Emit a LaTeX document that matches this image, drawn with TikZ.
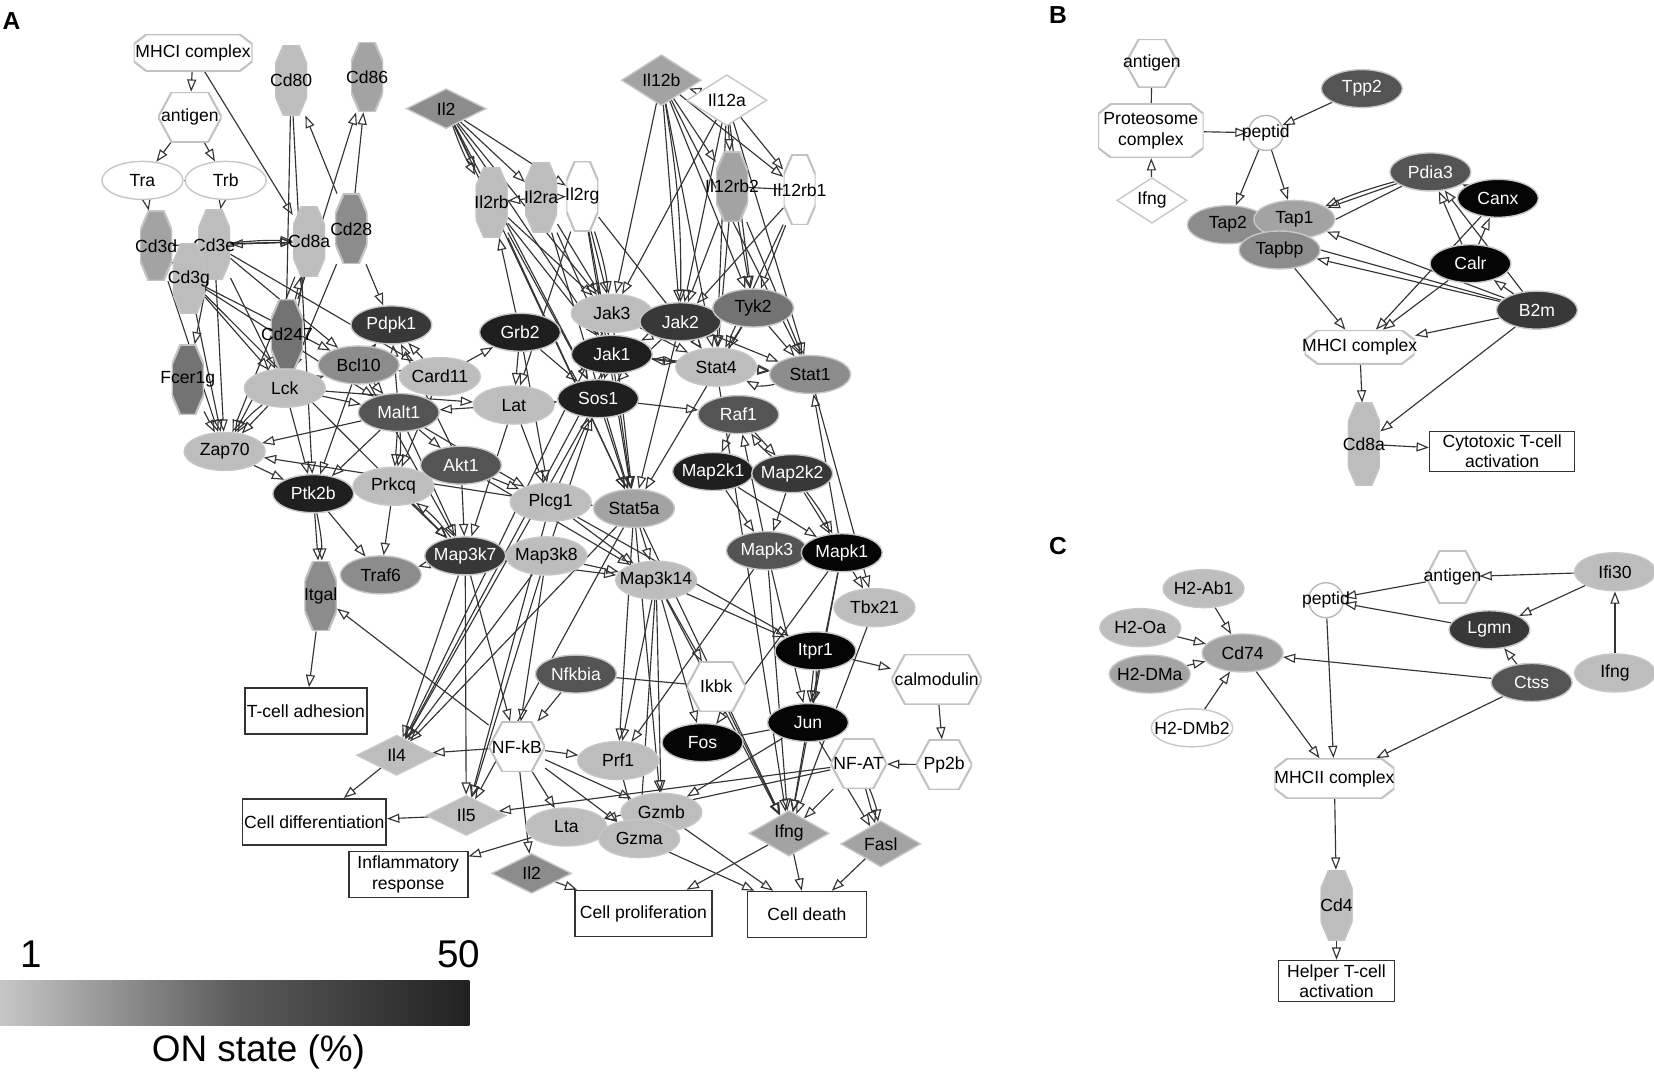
\documentclass[tikz,border=0pt]{standalone}
\usepackage{fontspec}
\setmainfont{Liberation Sans}
\usepackage{tikz}
\usetikzlibrary{shapes.geometric,arrows.meta,backgrounds}
\usetikzlibrary {positioning}
\definecolor{onA}{gray}{0.74}
\definecolor{onB}{gray}{0.64}
\definecolor{onC}{gray}{0.55}
\definecolor{onD}{gray}{0.45}
\definecolor{onE}{gray}{0.33}
\definecolor{onF}{gray}{0.22}
\definecolor{onG}{gray}{0.12}
\definecolor{onH}{gray}{0.02}
\definecolor{barlo}{gray}{0.78}
\definecolor{barmid}{gray}{0.36}
\definecolor{barhi}{gray}{0.13}
\tikzset{polyln/.style={draw=black!24,line width=1.2pt},
         chamf/.style n args={3}{rectangle,inner sep=0pt,
           path picture={\filldraw[polyln,fill=#1]
             ([xshift=#2]path picture bounding box.north west)
             -- ([xshift=-#2]path picture bounding box.north east)
             -- ([yshift=-#3]path picture bounding box.north east)
             -- ([yshift=#3]path picture bounding box.south east)
             -- ([xshift=-#2]path picture bounding box.south east)
             -- ([xshift=#2]path picture bounding box.south west)
             -- ([yshift=#3]path picture bounding box.south west)
             -- ([yshift=-#3]path picture bounding box.north west) -- cycle;}},
         gene/.style={ellipse,draw=black!22,line width=0.8pt,fill=#1,
           minimum width=1.62cm,minimum height=0.76cm,inner xsep=-5pt,inner ysep=0pt},
         dgene/.style={gene=#1,text=white},
         lig/.style={diamond,draw=black!22,line width=0.8pt,fill=#1,
           minimum width=1.6cm,minimum height=0.8cm,inner sep=0pt},
         recp/.style={chamf={#1}{0.17cm}{0.4cm},minimum width=0.64cm,minimum height=1.4cm},
         cplx/.style={chamf={white}{0.26cm}{0.2cm},minimum width=2.38cm,minimum height=0.74cm},
         hexa/.style={rectangle,inner sep=0pt,minimum width=1.12cm,minimum height=1cm,
           path picture={\filldraw[polyln,fill=white]
             (path picture bounding box.west)
             -- ([xshift=0.27cm]path picture bounding box.north west)
             -- ([xshift=-0.27cm]path picture bounding box.north east)
             -- (path picture bounding box.east)
             -- ([xshift=-0.27cm]path picture bounding box.south east)
             -- ([xshift=0.27cm]path picture bounding box.south west) -- cycle;}},
         pep/.style={circle,draw=black!28,line width=0.8pt,fill=white,
           minimum size=0.7cm,inner sep=0pt},
         outcome/.style={rectangle,draw=black!80,line width=0.9pt,fill=white,
           align=center,inner sep=1pt,minimum height=0.92cm,
           font=\fontsize{10}{11.5}\selectfont},
         arr/.style={draw=black!80,line width=0.65pt,
           -{Triangle[open,length=7pt,width=5.2pt]}},
         tie/.style={draw=black!80,line width=0.65pt},
         panel/.style={font=\bfseries\fontsize{14}{14}\selectfont}}

\begin{document}
\begin{tikzpicture}[x=0.0211cm,y=-0.0211cm]
\useasboundingbox (0,0) rectangle (1568,1017);

% panel A
\node[panel] (panA) at (11,20) {A};
\node[cplx,label=center:MHCI complex] (mhcA) at (183,50) {};
\node[hexa,minimum width=1.27cm,label=center:antigen] (antA) at (180,111) {};
\node[gene=white] (tra) at (135,171) {Tra};
\node[gene=white] (trb) at (214,171) {Trb};
\node[recp=onA,label=center:Cd80] (cd80) at (276,76) {};
\node[recp=onB,label=center:Cd86] (cd86) at (348,73) {};
\node[lig=onC] (il2) at (423,103) {Il2};
\node[lig=onB] (il12b) at (627,76) {Il12b};
\node[lig=white] (il12a) at (689,95) {Il12a};
\node[recp=onA,label=center:Il2rb] (il2rb) at (466,192) {};
\node[recp=onA,label=center:Il2ra] (il2ra) at (513,187) {};
\node[recp=white,label=center:Il2rg] (il2rg) at (552,186) {};
\node[recp=onB,label=center:Il12rb2] (il12rb2) at (694,177) {};
\node[recp=white,label=center:Il12rb1] (il12rb1) at (758,180) {};
\node[recp=onB,label=center:Cd3d] (cd3d) at (148,233) {};
\node[recp=onA,label=center:Cd3e] (cd3e) at (203,232) {};
\node[recp=onA,label=center:Cd3g] (cd3g) at (179,264) {};
\node[recp=onA,label=center:Cd8a] (cd8a) at (293,229) {};
\node[recp=onC,label=center:Cd28] (cd28) at (333,217) {};
\node[recp=onD,label=center:Cd247] (cd247) at (272,317) {};
\node[recp=onD,label=center:Fcer1g] (fcer1g) at (178,360) {};
\node[dgene=onF] (pdpk1) at (371,308) {Pdpk1};
\node[gene=onA] (lck) at (270,368) {Lck};
\node[gene=onC] (bcl10) at (340,346) {Bcl10};
\node[gene=onA] (card11) at (417,357) {Card11};
\node[dgene=onE] (malt1) at (378,391) {Malt1};
\node[dgene=onG] (grb2) at (493,315) {Grb2};
\node[gene=onA] (lat) at (487,384) {Lat};
\node[gene=onA] (zap70) at (213,428) {Zap70};
\node[dgene=onG] (ptk2b) at (297,468) {Ptk2b};
\node[gene=onA] (prkcq) at (373,461) {Prkcq};
\node[dgene=onE] (akt1) at (437,441) {Akt1};
\node[gene=onA] (plcg1) at (522,476) {Plcg1};
\node[gene=onA] (jak3) at (580,297) {Jak3};
\node[dgene=onF] (jak2) at (645,305) {Jak2};
\node[dgene=onG] (jak1) at (580,336) {Jak1};
\node[gene=onD] (tyk2) at (714,292) {Tyk2};
\node[gene=onA] (stat4) at (679,348) {Stat4};
\node[gene=onC] (stat1) at (768,355) {Stat1};
\node[dgene=onG] (sos1) at (567,378) {Sos1};
\node[dgene=onE] (raf1) at (700,393) {Raf1};
\node[dgene=onG] (map2k1) at (676,447) {Map2k1};
\node[dgene=onF] (map2k2) at (751,449) {Map2k2};
\node[gene=onB] (stat5a) at (601,482) {Stat5a};
\node[recp=onC,label=center:Itgal] (itgal) at (304,565) {};
\node[gene=onC] (traf6) at (361,545) {Traf6};
\node[dgene=onF] (map3k7) at (441,527) {Map3k7};
\node[gene=onA] (map3k8) at (518,527) {Map3k8};
\node[gene=onA] (map3k14) at (622,550) {Map3k14};
\node[dgene=onE] (mapk3) at (727,522) {Mapk3};
\node[dgene=onH] (mapk1) at (798,524) {Mapk1};
\node[gene=onA] (tbx21) at (829,576) {Tbx21};
\node[dgene=onH] (itpr1) at (773,617) {Itpr1};
\node[hexa,minimum width=1.81cm,label=center:calmodulin] (calm) at (888,644) {};
\node[dgene=onE] (nfkbia) at (546,639) {Nfkbia};
\node[hexa,minimum width=1.18cm,label=center:Ikbk] (ikbk) at (679,651) {};
\node[dgene=onH] (jun) at (766,685) {Jun};
\node[dgene=onH] (fos) at (666,704) {Fos};
\node[hexa,label=center:NF-kB] (nfkb) at (490,708) {};
\node[hexa,label=center:NF-AT] (nfat) at (814,724) {};
\node[hexa,label=center:Pp2b] (pp2b) at (895,725) {};
\node[lig=onA] (il4) at (376,716) {Il4};
\node[gene=onA] (prf1) at (586,721) {Prf1};
\node[lig=onA] (il5) at (442,773) {Il5};
\node[gene=onA] (lta) at (537,784) {Lta};
\node[gene=onA] (gzmb) at (627,770) {Gzmb};
\node[gene=onA] (gzma) at (606,795) {Gzma};
\node[lig=onB] (ifng) at (748,790) {Ifng};
\node[lig=onB] (fasl) at (835,800) {Fasl};
\node[lig=onC] (il2b) at (504,828) {Il2};
\node[outcome,minimum width=2.36cm] (tadh) at (290,674) {T-cell adhesion};
\node[outcome,minimum width=2.85cm] (cdiff) at (298,779) {Cell differentiation};
\node[outcome,minimum width=2.38cm] (inflam) at (387,829) {Inflammatory\\response};
\node[outcome,minimum width=2.74cm] (cprol) at (610,866) {Cell proliferation};
\node[outcome,minimum width=2.38cm] (cdeath) at (765,867) {Cell death};

% legend
\node[font=\fontsize{22}{22}\selectfont] (lo) at (30,905) {1};
\node[font=\fontsize{22}{22}\selectfont] (hi) at (435,905) {50};
\node[minimum width=9.39cm,minimum height=0.89cm,inner sep=0pt,
      left color=barlo,right color=barhi,middle color=barmid] (bar) at (222.5,951) {};
\node[font=\fontsize{21}{21}\selectfont] (lbl) at (245,997) {ON state (\%)};

% panel B
\node[panel] (panB) at (1003,14) {B};
\node[hexa,minimum width=1.06cm,minimum height=0.97cm,label=center:antigen] (antB) at (1092,60) {};
\node[cplx,minimum width=2.11cm,minimum height=1.08cm,
      label={[align=center]center:Proteosome\\complex}] (prot) at (1091,124) {};
\node[lig=white,minimum width=1.4cm,minimum height=0.66cm] (ifngB) at (1092,190) {Ifng};
\node[dgene=onE] (tpp2) at (1291,84) {Tpp2};
\node[pep,label=center:peptid] (peptB) at (1200,126) {};
\node[gene=onC] (tap2) at (1164,213) {Tap2};
\node[gene=onB] (tap1) at (1227,208) {Tap1};
\node[gene=onC] (tapbp) at (1213,237) {Tapbp};
\node[dgene=onE] (pdia3) at (1356,163) {Pdia3};
\node[dgene=onH] (canx) at (1420,188) {Canx};
\node[dgene=onH] (calr) at (1394,250) {Calr};
\node[dgene=onF] (b2m) at (1457,294) {B2m};
\node[cplx,minimum width=2.2cm,minimum height=0.68cm,label=center:MHCI complex] (mhcB) at (1289,329) {};
\node[recp=onA,minimum height=1.65cm,label=center:Cd8a] (cd8aB) at (1293,421) {};
\node[outcome,minimum width=2.9cm,minimum height=0.8cm] (cytox) at (1424,428) {Cytotoxic T-cell\\activation};

% panel C
\node[panel] (panC) at (1003,518) {C};
\node[gene=onA] (h2ab1) at (1141,558) {H2-Ab1};
\node[gene=onA] (h2oa) at (1081,595) {H2-Oa};
\node[gene=onB] (h2dma) at (1090,639) {H2-DMa};
\node[gene=onB] (cd74) at (1178,619) {Cd74};
\node[gene=white] (h2dmb2) at (1130,690) {H2-DMb2};
\node[pep,label=center:peptid] (peptC) at (1257,569) {};
\node[hexa,minimum width=1.06cm,minimum height=1.05cm,label=center:antigen] (antC) at (1377,547) {};
\node[gene=onA] (ifi30) at (1531,542) {Ifi30};
\node[dgene=onF] (lgmn) at (1412,597) {Lgmn};
\node[dgene=onE] (ctss) at (1452,647) {Ctss};
\node[gene=onA] (ifngC) at (1531,638) {Ifng};
\node[cplx,minimum width=2.4cm,minimum height=0.8cm,label=center:MHCII complex] (mhcII) at (1265,738) {};
\node[recp=onA,label=center:Cd4] (cd4) at (1267,858) {};
\node[outcome,minimum width=2.32cm,minimum height=0.82cm] (helper) at (1267,930) {Helper T-cell\\activation};

\begin{scope}[on background layer]
% A: TCR and co-receptors
\path[arr] (mhcA) edge (antA) edge (cd8a);
\path[arr] (antA) edge (tra) edge (trb);
\draw[tie] (tra) -- (trb);
\draw[arr] (tra) -- (cd3d);
\draw[arr] (trb) -- (cd3e);
\draw[arr] (cd3g) -- (cd3d);
\path[arr] (cd3e) edge (cd8a) edge[bend left=4] (cd8a) edge (zap70) edge (lck) edge (bcl10) edge (card11) edge (fcer1g);
\path[arr] (cd3d) edge (cd8a) edge (zap70);
\path[arr] (cd3g) edge (zap70) edge (lck) edge (malt1) edge (bcl10) edge (map3k7);
\path[arr] (cd8a) edge (cd3e) edge (zap70) edge (lck);
\path[arr] (cd28) edge (cd80) edge (cd86) edge (pdpk1) edge (lck);
\path[arr] (cd247) edge (cd86) edge (cd8a) edge (zap70) edge (lck);
\path[arr] (cd80) edge (lck) edge (ptk2b);
\draw[arr] (fcer1g) -- (zap70);
% A: proximal signalling
\path[arr] (lck) edge (zap70) edge[bend right=10] (zap70) edge (bcl10) edge (malt1) edge (ptk2b) edge (lat);
\path[arr] (card11) edge (bcl10) edge (pdpk1) edge (grb2) edge (prkcq);
\path[arr] (bcl10) edge (malt1) edge (ptk2b) edge (map3k7) edge (pdpk1);
\path[arr] (malt1) edge (zap70) edge (prkcq) edge[bend left=8] (prkcq) edge (ptk2b) edge (akt1) edge (map3k7) edge (plcg1) edge (pdpk1);
\draw[arr] (zap70) -- (ptk2b);
\path[arr] (ptk2b) edge (itgal) edge[bend left=6] (itgal) edge (traf6);
\path[arr] (prkcq) edge (traf6) edge (map3k7);
\path[arr] (map3k7) edge (traf6) edge[bend right=8] (prkcq);
\path[arr] (akt1) edge (map3k7) edge (plcg1) edge (pdpk1) edge (map3k14);
\path[arr] (lat) edge (malt1) edge (plcg1) edge (sos1) edge (map3k7);
\path[arr] (grb2) edge (il2rb) edge (sos1) edge (lat) edge (plcg1);
\path[arr] (plcg1) edge (zap70) edge (stat5a) edge (map3k14) edge (itpr1) edge (sos1) edge (il5);
% A: cytokine receptors
\path[arr] (il2) edge (il2rb) edge[bend right=5] (il2rb) edge (il2ra) edge (il2rg) edge (jak3) edge (jak1) edge (stat5a) edge (sos1);
\path[arr] (il2ra) edge (il2rb) edge (il2rg) edge (jak1) edge (jak3) edge (stat5a);
\path[arr] (il2rb) edge (jak1) edge (jak3) edge (stat5a) edge (sos1);
\path[arr] (il2rg) edge (jak3) edge[bend left=5] (jak3) edge (jak1) edge (stat4) edge (lat) edge (stat5a);
\path[arr] (il12a) edge (il12b) edge (il12rb1) edge (il12rb2) edge (jak2) edge (tyk2) edge (stat4) edge (stat1) edge (jak3);
\path[arr] (il12b) edge (jak3) edge (jak2) edge[bend left=5] (jak2) edge (tyk2) edge (stat4) edge (il12rb2) edge (il12rb1) edge (stat1);
\draw[tie] (il12rb2) -- (il12rb1);
\path[arr] (il12rb2) edge (tyk2) edge (jak2) edge (stat4) edge (stat1);
\path[arr] (il12rb1) edge (tyk2) edge (jak2) edge (stat4);
% A: Jak/Stat and MAPK
\path[arr] (jak3) edge (stat5a) edge (sos1) edge (stat4) edge (il4);
\path[arr] (jak1) edge (stat5a) edge (sos1) edge (stat4) edge (stat1) edge (il4);
\path[arr] (jak2) edge (stat4) edge (stat1) edge (stat5a) edge (sos1) edge (jak1);
\path[arr] (tyk2) edge (stat4) edge (stat1) edge (stat5a);
\path[arr] (stat4) edge (stat1) edge (ifng) edge (jak1);
\draw[arr] (stat1) to[bend left=20] (stat4);
\path[arr] (sos1) edge (raf1) edge (il4) edge (stat5a);
\path[arr] (raf1) edge (map2k1) edge (map2k2);
\path[arr] (map2k2) edge[bend left=8] (raf1) edge (mapk3) edge (mapk1) edge[bend left=6] (mapk1);
\path[arr] (map2k1) edge (mapk3) edge (mapk1);
\path[arr] (mapk3) edge (raf1) edge (jun) edge (prf1) edge (ifng);
\path[arr] (mapk1) edge (stat1) edge (tbx21) edge (jun) edge (fos) edge (ifng);
\draw[arr] (stat1) -- (tbx21);
\draw[arr] (tbx21) -- (ifng);
\path[arr] (stat5a) edge (il4) edge (il5) edge (prf1) edge (gzmb) edge (ifng) edge (map3k14);
\path[arr] (map3k8) edge (map3k14) edge (il4) edge (il5) edge (sos1) edge (nfkb);
\path[arr] (map3k7) edge (il4) edge (il5) edge (nfkb) edge (map3k14);
\path[arr] (map3k14) edge (ikbk) edge (prf1) edge (fos) edge (gzmb) edge (gzma) edge (ifng) edge (itpr1);
% A: transcription and effectors
\path[arr] (itpr1) edge (jun) edge[bend left=8] (jun) edge (calm);
\draw[arr] (calm) -- (pp2b);
\draw[arr] (pp2b) -- (nfat);
\draw[tie] (ikbk) -- (nfkbia);
\draw[arr] (ikbk) -- (ifng);
\draw[arr] (nfkbia) -- (nfkb);
\path[arr] (nfkb) edge (il4) edge (prf1) edge (lta) edge (il2b) edge (gzma) edge (gzmb) edge (itgal);
\path[arr] (nfat) edge (il5) edge (lta) edge (ifng) edge (fasl) edge[bend left=8] (fasl);
\draw[tie] (fos) -- (jun);
\path[arr] (jun) edge (gzmb) edge (ifng) edge (fasl);
\draw[arr] (prf1) -- (gzma);
\draw[arr] (itgal) -- (tadh);
\draw[arr] (il4) -- (cdiff);
\draw[arr] (il5) -- (cdiff);
\draw[arr] (lta) -- (inflam);
\draw[arr] (il2b) -- (cprol);
\path[arr] (ifng) edge (cprol) edge (cdeath);
\draw[arr] (gzmb) -- (cdeath);
\draw[arr] (gzma) -- (cdeath);
\draw[arr] (fasl) -- (cdeath);
% B
\draw[tie] (antB) -- (prot);
\draw[arr] (ifngB) -- (prot);
\draw[arr] (prot) -- (peptB);
\draw[arr] (tpp2) -- (peptB);
\path[arr] (peptB) edge (tap2) edge (tap1);
\path[arr] (pdia3) edge (tap1) edge[bend right=4] (tap1);
\draw[tie] (pdia3) -- (tap1.east);
\path[arr] (canx) edge (pdia3) edge (mhcB);
\path[arr] (calr) edge (pdia3) edge (canx) edge (mhcB);
\path[arr] (b2m) edge (pdia3) edge (calr) edge (tap1) edge (tapbp) edge (mhcB) edge (cd8aB);
\draw[tie] (b2m) -- (tapbp.east);
\draw[arr] (tapbp) -- (mhcB);
\draw[arr] (mhcB) -- (cd8aB);
\draw[arr] (cd8aB) -- (cytox);
% C
\draw[arr] (h2ab1) -- (cd74);
\draw[arr] (h2oa) -- (cd74);
\draw[arr] (h2dma) -- (cd74);
\draw[arr] (h2dmb2) -- (cd74);
\path[arr] (ctss) edge (cd74) edge (lgmn) edge (mhcII);
\draw[arr] (lgmn) -- (peptC);
\draw[arr] (antC) -- (peptC);
\path[arr] (ifi30) edge (antC) edge (lgmn);
\draw[arr] (ifngC) -- (ifi30);
\draw[arr] (cd74) -- (mhcII);
\draw[arr] (peptC) -- (mhcII);
\draw[arr] (mhcII) -- (cd4);
\draw[arr] (cd4) -- (helper);
\end{scope}
\end{tikzpicture}
\end{document}
